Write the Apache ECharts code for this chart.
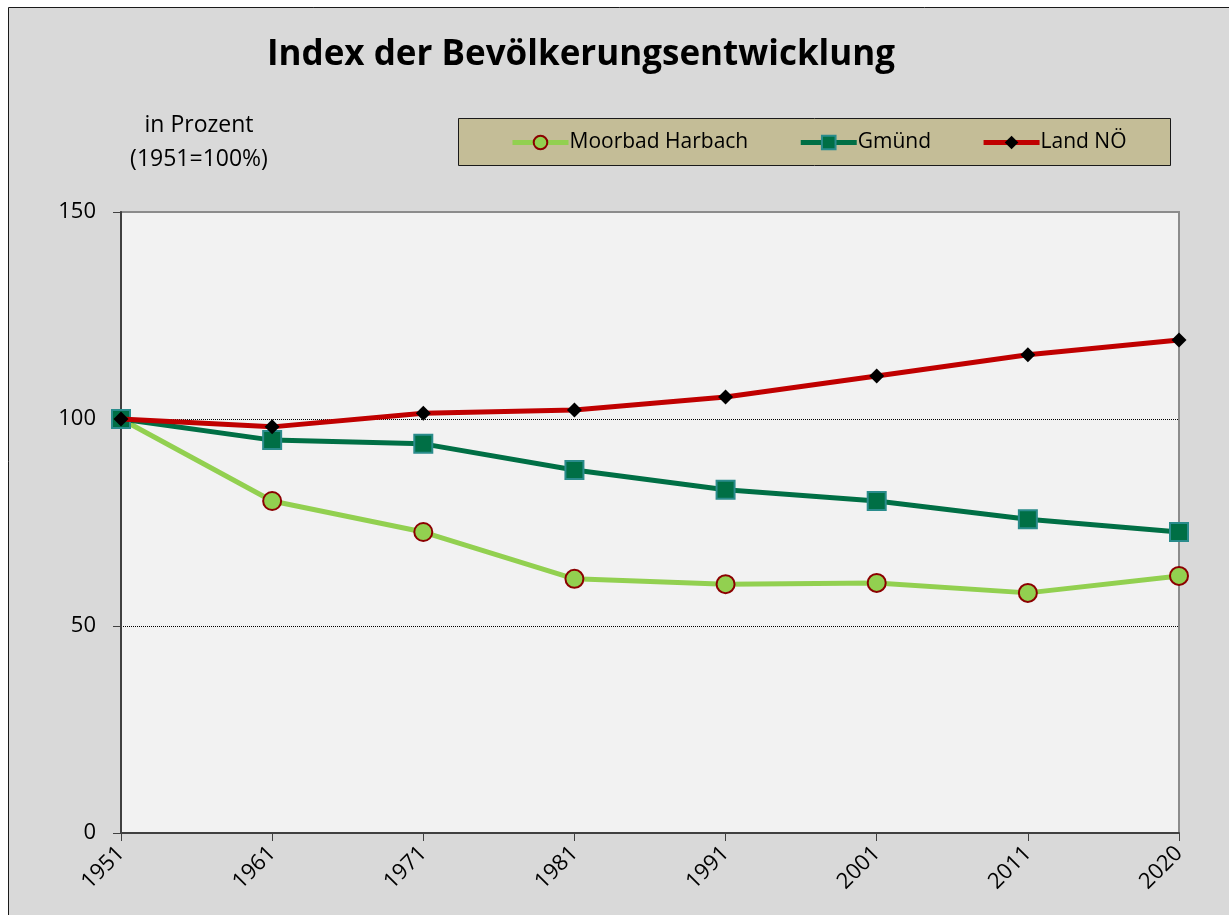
<!DOCTYPE html>
<html>
<head>
<meta charset="utf-8">
<script src="https://cdn.jsdelivr.net/npm/echarts@6/dist/echarts.min.js"></script>
<style>
html, body { margin: 0; padding: 0; background: #ffffff; }
#main { width: 1229px; height: 915px; }
</style>
</head>
<body>
<div id="main"></div>
<script>
// Jahre (Kategorien)
var years = ['1951', '1961', '1971', '1981', '1991', '2001', '2011', '2020'];
// Index 1951 = 100
var moorbad = [100, 80.2, 72.7, 61.4, 60.1, 60.4, 58.0, 62.1];
var gmuend = [100, 94.9, 94.0, 87.7, 82.9, 80.2, 75.8, 72.7];
var landNoe = [100, 98.1, 101.4, 102.2, 105.3, 110.4, 115.5, 119.1];
var yTicks = [0, 50, 100, 150];

var font = '"Open Sans", "Noto Sans", sans-serif';

var myChart = echarts.init(document.getElementById('main'));
var option = {
    backgroundColor: '#ffffff',
    animation: false,
    graphic: [
        {   // Diagrammfläche mit Rahmen
            type: 'rect', z: -10,
            shape: { x: 8.5, y: 7.5, width: 1240, height: 940 },
            style: { fill: '#d9d9d9', stroke: '#1a1a1a', lineWidth: 1 }
        },
        {   // Legendenkasten
            type: 'rect', z: 1,
            shape: { x: 458.5, y: 118.5, width: 712, height: 47 },
            style: { fill: '#c4bd97', stroke: '#1a1a1a', lineWidth: 1 }
        }
    ],
    title: [
        {
            text: 'Index der Bevölkerungsentwicklung',
            left: 576, top: 33, textAlign: 'center',
            textStyle: { fontFamily: font, fontSize: 35, fontWeight: 'bold', color: '#000' }
        },
        {
            text: 'in Prozent\n(1951=100%)',
            left: 194, top: 103, textAlign: 'center',
            textStyle: { fontFamily: font, fontSize: 23, fontWeight: 'normal', color: '#000', lineHeight: 34 }
        }
    ],
    legend: {
        left: 505, top: 127,
        itemWidth: 56, itemHeight: 17, itemGap: 50,
        textStyle: { fontFamily: font, fontSize: 21, color: '#000', padding: [0, 0, 0, -4] },
        lineStyle: { width: 5 },
        data: ['Moorbad Harbach', 'Gmünd', 'Land NÖ'],
        z: 5
    },
    grid: {
        left: 121, right: 50, top: 212, bottom: 82,
        show: true, backgroundColor: '#f2f2f2', borderColor: '#8c8c8c', borderWidth: 2
    },
    xAxis: {
        type: 'category',
        data: years,
        boundaryGap: false,
        axisLine: { lineStyle: { color: '#404040', width: 2 } },
        axisTick: { show: true, length: 8, lineStyle: { color: '#404040', width: 1 } },
        axisLabel: { rotate: 45, margin: 17, fontFamily: font, fontSize: 22, color: '#000' },
        splitLine: { show: false }
    },
    yAxis: {
        type: 'value',
        min: yTicks[0], max: yTicks[yTicks.length - 1], interval: 50,
        axisLine: { show: true, lineStyle: { color: '#404040', width: 2 } },
        axisTick: { show: true, length: 8, lineStyle: { color: '#404040', width: 1 } },
        axisLabel: { margin: 25, fontFamily: font, fontSize: 22, color: '#000' },
        splitLine: {
            show: true, showMinLine: false, showMaxLine: false,
            lineStyle: { color: '#000', type: [1, 1], width: 1 }
        }
    },
    series: [
        {
            name: 'Moorbad Harbach', type: 'line', data: moorbad,
            symbol: 'circle', symbolSize: 18, z: 3,
            lineStyle: { color: '#92d050', width: 5 },
            itemStyle: { color: '#92d050', borderColor: '#8b0000', borderWidth: 2 }
        },
        {
            name: 'Gmünd', type: 'line', data: gmuend,
            symbol: 'rect', symbolSize: 18, z: 4,
            lineStyle: { color: '#006f45', width: 5 },
            itemStyle: { color: '#006f45', borderColor: '#2a8c8c', borderWidth: 2 }
        },
        {
            name: 'Land NÖ', type: 'line', data: landNoe,
            symbol: 'diamond', symbolSize: 15, z: 5,
            lineStyle: { color: '#c00000', width: 5 },
            itemStyle: { color: '#000000', borderColor: '#000000', borderWidth: 0 }
        }
    ]
};
myChart.setOption(option);
window.onresize = myChart.resize;
</script>
</body>
</html>
